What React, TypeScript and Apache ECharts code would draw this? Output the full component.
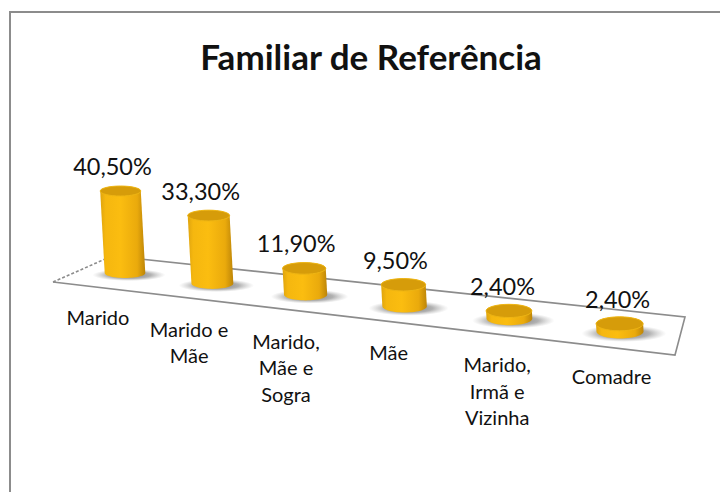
import React, { useEffect, useRef } from "react";
import * as echarts from "echarts";

const titleText = "Familiar de Referência";
const categories = [
  "Marido",
  "Marido e\nMãe",
  "Marido,\nMãe e\nSogra",
  "Mãe",
  "Marido,\nIrmã e\nVizinha",
  "Comadre",
];
const shares = [40.5, 33.3, 11.9, 9.5, 2.4, 2.4];

const FONT = "Lato, 'Open Sans', sans-serif";
const LINE = "#8c8c8c";

const fmt = (v: number) => v.toFixed(2).replace(".", ",") + "%";

function renderCylinder(params: any, api: any) {
  const i = api.value(0) as number;
  const v = api.value(1) as number;
  const top = api.coord([i, v]);
  const base = api.coord([i, 0]);
  // perspective of the sloped floor
  const bx = base[0] + 2.9 * i * i;
  const by = base[1] + 10.2 * i + 0.3 * i * i;
  const rx = 20.3 + 0.65 * i;
  const ry = 5 + 0.4 * i;
  const h = base[1] - top[1] + 3;
  const tx = bx - 0.055 * h;
  const ty = by - h;

  const pts: number[][] = [];
  const N = 28;
  for (let k = 0; k <= N; k++) {
    const a = (Math.PI * k) / N;
    pts.push([bx + rx * Math.cos(a), by + ry * Math.sin(a)]);
  }
  for (let k = 0; k <= N; k++) {
    const a = Math.PI + (Math.PI * k) / N;
    pts.push([tx + rx * Math.cos(a), ty + ry * Math.sin(a)]);
  }

  const side = {
    type: "linear",
    x: 0,
    y: 0,
    x2: 1,
    y2: 0,
    colorStops: [
      { offset: 0, color: "#dfa40e" },
      { offset: 0.12, color: "#f5b70f" },
      { offset: 0.45, color: "#fbbd10" },
      { offset: 0.82, color: "#eaaa0c" },
      { offset: 1, color: "#bd8508" },
    ],
  };
  const shadowFill = {
    type: "radial",
    x: 0.5,
    y: 0.5,
    r: 0.5,
    colorStops: [
      { offset: 0, color: "rgba(70,70,70,0.75)" },
      { offset: 0.6, color: "rgba(100,100,100,0.5)" },
      { offset: 1, color: "rgba(150,150,150,0)" },
    ],
  };
  const lines = categories[i].split("\n");
  const drift = Math.max(0, i - 3);

  return {
    type: "group",
    children: [
      {
        type: "ellipse",
        shape: { cx: bx + 4, cy: by + 2, rx: rx * 1.8, ry: ry * 1.2 },
        style: { fill: shadowFill },
      },
      { type: "polygon", shape: { points: pts }, style: { fill: side } },
      {
        type: "ellipse",
        shape: { cx: tx, cy: ty, rx, ry },
        style: { fill: "#d69c0a", stroke: "#eeb514", lineWidth: 1 },
      },
      {
        type: "text",
        style: {
          text: fmt(v),
          x: tx - 8 + 1.5 * drift * drift,
          y: ty - 25,
          fill: "#111",
          fontFamily: FONT,
          fontSize: 23.5,
          align: "center",
          verticalAlign: "middle",
        },
      },
      ...lines.map((line, n) => ({
        type: "text",
        style: {
          text: line,
          x: bx - 27 + 3.7 * i,
          y: 317 + 11.8 * i + 26.5 * n,
          fill: "#111",
          fontFamily: FONT,
          fontSize: 20,
          align: "center",
          verticalAlign: "middle",
        },
      })),
    ],
  };
}

export default function App() {
  const ref = useRef<HTMLDivElement>(null);
  useEffect(() => {
    const chart = echarts.init(ref.current!, null, { renderer: "svg" });
    chart.setOption({
      animation: false,
      backgroundColor: "#ffffff",
      title: {
        text: titleText,
        left: 366,
        top: 33,
        textAlign: "center",
        textStyle: { fontFamily: FONT, fontSize: 35, fontWeight: "bold", color: "#111" },
      },
      grid: { left: 125, top: 175.5, width: 422.5, height: 97.5 },
      xAxis: { type: "category", data: categories, boundaryGap: false, show: false },
      yAxis: { type: "value", min: 0, max: 50, show: false },
      graphic: [
        {
          type: "line",
          shape: { x1: 10, y1: 12, x2: 720, y2: 12 },
          style: { stroke: LINE, lineWidth: 2 },
        },
        {
          type: "line",
          shape: { x1: 10, y1: 11, x2: 10, y2: 492 },
          style: { stroke: LINE, lineWidth: 2 },
        },
        {
          type: "polyline",
          shape: { points: [[53, 282], [675, 355], [685, 317], [112, 256]] },
          style: { stroke: LINE, lineWidth: 1.6, fill: "none" },
        },
        {
          type: "line",
          shape: { x1: 53, y1: 282, x2: 112, y2: 256 },
          style: { stroke: LINE, lineWidth: 1.6, lineDash: [3, 2] },
        },
      ],
      series: [
        {
          type: "custom",
          coordinateSystem: "cartesian2d",
          renderItem: renderCylinder,
          data: shares.map((v, i) => [i, v]),
          clip: false,
        },
      ],
    });
    return () => chart.dispose();
  }, []);
  return <div ref={ref} style={{ position: "fixed", left: 0, top: 0, width: 720, height: 492 }} />;
}
